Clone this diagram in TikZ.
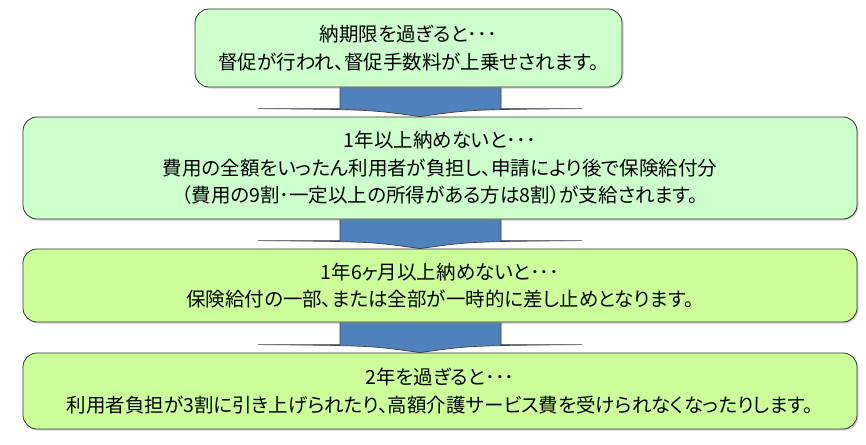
\documentclass[tikz,border=0pt]{standalone}
\usepackage{fontspec}
\newfontfamily\jp[RawFeature=+palt]{Noto Sans CJK JP}
\usetikzlibrary{calc,shadows,backgrounds}
\definecolor{mint}{HTML}{CCFFCC}
\definecolor{lime}{HTML}{CCFF99}
\definecolor{arrowblue}{HTML}{4F81BD}
\newcommand\flowarrow[2]{%
  \path[arrowshape] let \p1=(#1.south), \p2=(#2.north) in
    (340pt,\y1) -- (340pt,\y2+8pt) -- (258pt,\y2+8pt)
    .. controls (370pt,\y2+7pt) .. (420pt,\y2)
    .. controls (470pt,\y2+7pt) .. (582pt,\y2+8pt)
    -- (501pt,\y2+8pt) -- (501pt,\y1);
}
\begin{document}
\begin{tikzpicture}[x=1pt,y=-1pt,
  box/.style={draw=black!80, line width=0.8pt, rounded corners=14pt,
    inner sep=0pt, align=center,
    font=\jp\fontsize{19.5}{27.5}\selectfont,
    drop shadow={shadow xshift=1.5pt, shadow yshift=-1.5pt, opacity=0.35}},
  arrowshape/.style={fill=arrowblue, draw=black!75, line width=0.7pt, line join=round}]
\useasboundingbox (0,0) rectangle (866,444);
\node[box, fill=mint, minimum width=427, minimum height=78] (b1) at (408.5,48)
  {納期限を過ぎると･･･\\督促が行われ、督促手数料が上乗せされます。};
\node[box, fill=mint, minimum width=834, minimum height=102] (b2) at (440,168)
  {1年以上納めないと･･･\\費用の全額をいったん利用者が負担し、申請により後で保険給付分\\（費用の9割･一定以上の所得がある方は8割）が支給されます。};
\node[box, fill=lime, minimum width=834, minimum height=73] (b3) at (440,285.5)
  {1年6ヶ月以上納めないと･･･\\保険給付の一部、または全部が一時的に差し止めとなります。};
\node[box, fill=lime, minimum width=834, minimum height=76] (b4) at (440,391)
  {2年を過ぎると･･･\\利用者負担が3割に引き上げられたり、高額介護サービス費を受けられなくなったりします。};
\begin{pgfonlayer}{background}
\flowarrow{b1}{b2}
\flowarrow{b2}{b3}
\flowarrow{b3}{b4}
\end{pgfonlayer}
\end{tikzpicture}
\end{document}
